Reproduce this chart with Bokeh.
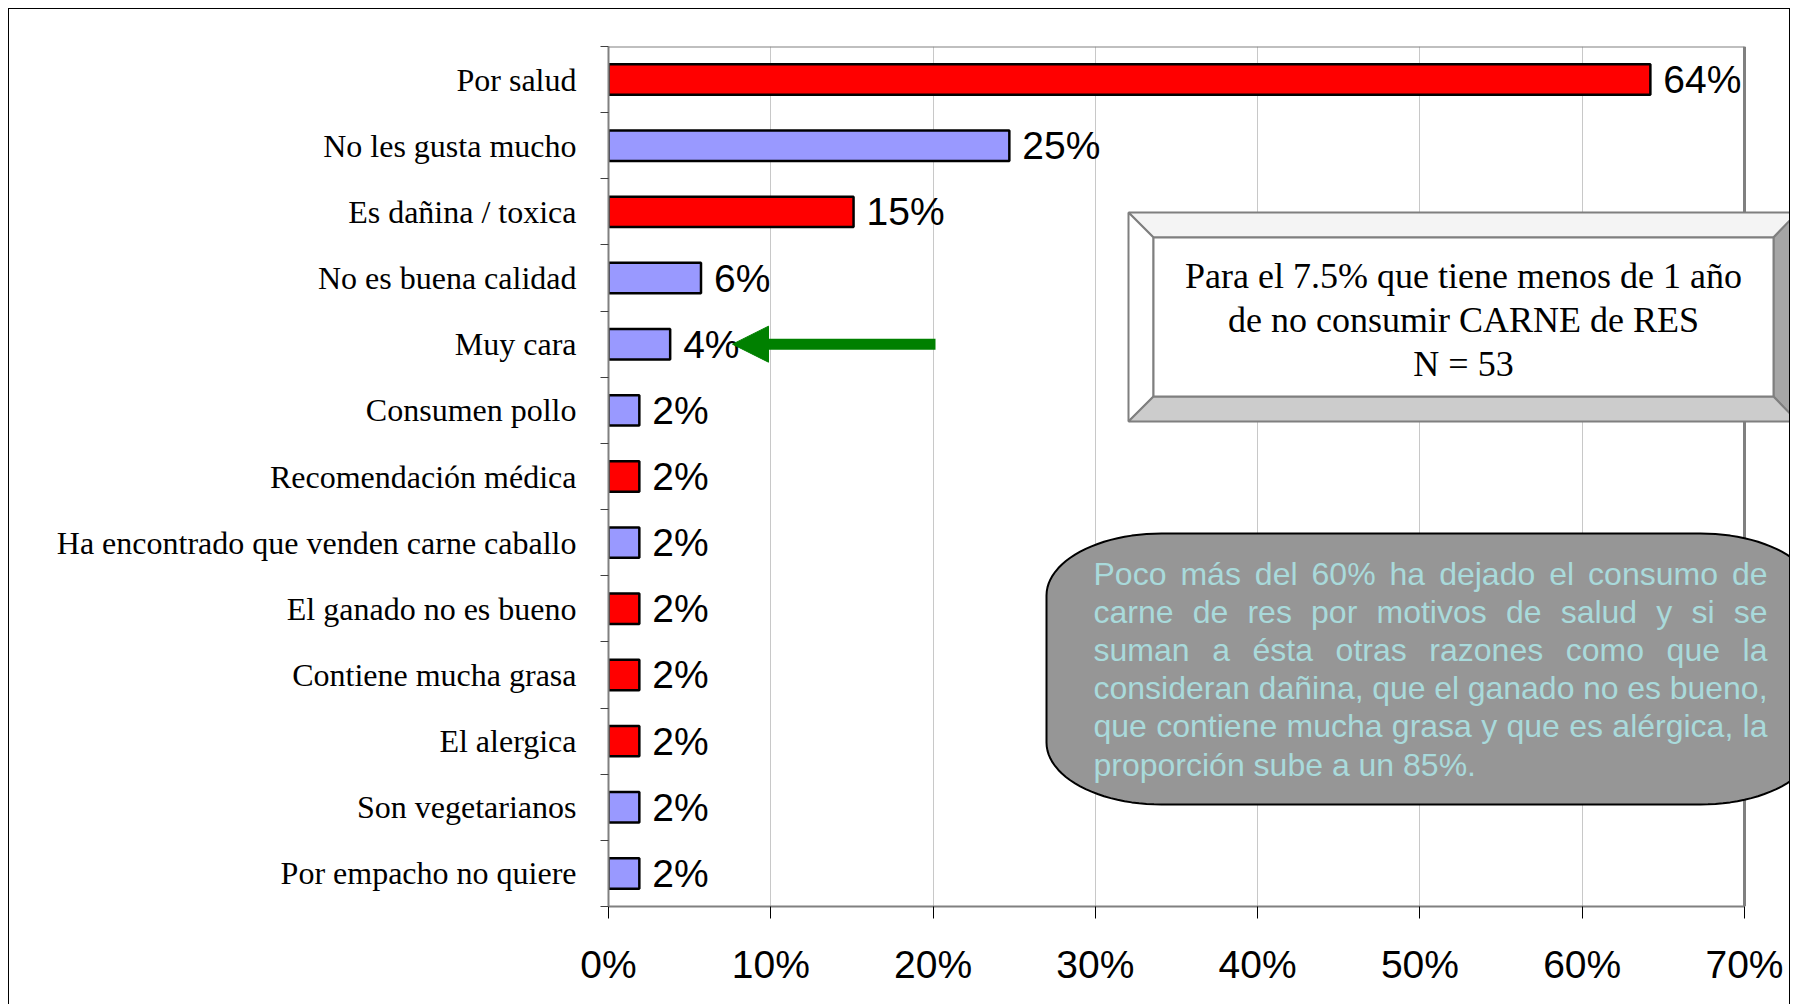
import math
from bokeh.plotting import figure
from bokeh.models import (ColumnDataSource, Range1d, FixedTicker, NumeralTickFormatter,
                          Arrow, NormalHead)
from bokeh.core.properties import value
from bokeh.embed import file_html
from bokeh.resources import INLINE

# ---------------- data ----------------
categories = ["Por salud", "No les gusta mucho", "Es dañina / toxica", "No es buena calidad",
              "Muy cara", "Consumen pollo", "Recomendación médica",
              "Ha encontrado que venden carne caballo", "El ganado no es bueno",
              "Contiene mucha grasa", "El alergica", "Son vegetarianos", "Por empacho no quiere"]
shares = [0.642, 0.247, 0.151, 0.057, 0.038, 0.019, 0.019, 0.019, 0.019, 0.019, 0.019, 0.019, 0.019]
health_related = [True, False, True, False, False, False, True, False, True, True, True, False, False]
x_ticks = [0.0, 0.1, 0.2, 0.3, 0.4, 0.5, 0.6, 0.7]

box_title = ["Para el 7.5% que tiene menos de 1 año", "de no consumir CARNE de RES", "N = 53"]
note_lines = ["Poco más del 60% ha dejado el consumo de",
              "carne de res por motivos de salud y si se",
              "suman a ésta otras razones como que la",
              "consideran dañina, que el ganado no es bueno,",
              "que contiene mucha grasa y que es alérgica, la",
              "proporción sube a un 85%."]
arrow_target = "Muy cara"

RED = "#FF0000"
LAV = "#9999FF"

n = len(categories)
pos = [n - 1 - i for i in range(n)]
colors = [RED if h else LAV for h in health_related]
labels = [f"{int(v * 100 + 0.5)}%" for v in shares]
src = ColumnDataSource(dict(cat=categories, value=shares, pos=pos, color=colors, label=labels))

# ---------------- layout helpers (screen px -> data) ----------------
FRAME_L, FRAME_T, FRAME_B = 608, 46, 906
PX_PER_UNIT = (1744 - 608) / 0.70
ROW = (FRAME_B - FRAME_T) / n
FIG_X0 = 9  # page x of the canvas left edge


def X(px):
    return (px - FRAME_L) / PX_PER_UNIT


def Y(py):
    return (n - 0.5) - (py - FRAME_T) / ROW


W = 1782
p = figure(width=W, height=996, output_backend="svg", toolbar_location=None,
           x_range=Range1d(0, X(FIG_X0 + W)), y_range=Range1d(-0.5, n - 0.5),
           min_border_left=FRAME_L - FIG_X0, min_border_top=FRAME_T - 9,
           min_border_bottom=996 - (FRAME_B - 9), min_border_right=0)
p.outline_line_color = None
p.background_fill_color = "white"
p.border_fill_color = "white"
p.styles = {"margin-left": "8px", "margin-top": "8px",
            "border-top": "1px solid #000", "border-left": "1px solid #000",
            "border-right": "1px solid #000"}

# axes
xt = FixedTicker(ticks=x_ticks)
p.xaxis.ticker = xt
p.xaxis.bounds = (0, 0.7)
p.xaxis.formatter = NumeralTickFormatter(format="0%")
p.xaxis.axis_line_color = "#808080"
p.xaxis.axis_line_width = 2
p.xaxis.major_tick_out = 12
p.xaxis.major_tick_in = 0
p.xaxis.major_tick_line_color = "black"
p.xaxis.minor_tick_line_color = None
p.xaxis.major_label_text_font = "Liberation Sans"
p.xaxis.major_label_text_font_size = "39px"
p.xaxis.major_label_text_color = "black"
p.xaxis.major_label_standoff = 24

p.xgrid.ticker = xt
p.xgrid.bounds = (0, 0.7)
p.xgrid.grid_line_color = "#C8C8C8"
p.xgrid.grid_line_width = 1
p.ygrid.visible = False

boundaries = [i - 0.5 for i in range(n + 1)]
p.yaxis.ticker = FixedTicker(ticks=pos, minor_ticks=boundaries)
p.yaxis.major_label_overrides = {pp: c for pp, c in zip(pos, categories)}
p.yaxis.axis_line_color = "#808080"
p.yaxis.axis_line_width = 2
p.yaxis.major_tick_line_color = None
p.yaxis.major_tick_out = 0
p.yaxis.major_tick_in = 0
p.yaxis.minor_tick_line_color = "#404040"
p.yaxis.minor_tick_out = 8
p.yaxis.minor_tick_in = 0
p.yaxis.major_label_text_font = "Liberation Serif"
p.yaxis.major_label_text_font_size = "32px"
p.yaxis.major_label_text_color = "black"
p.yaxis.major_label_standoff = 24

# plot-area border (top & right)
p.segment(x0=[0, 0.7], y0=[n - 0.5, n - 0.5], x1=[0.7, 0.7], y1=[n - 0.5, -0.5],
          line_color="#808080", line_width=[2, 3])

# bars
p.hbar(y="pos", left=0, right="value", height=0.46, source=src,
       fill_color="color", line_color="black", line_width=2.5)
p.text(x="value", y="pos", text="label", source=src, x_offset=13,
       text_font=value("Liberation Sans"), text_font_size="39px",
       text_align="left", text_baseline="middle", text_color="black")

# ---------------- beveled title box ----------------
L, T, R, B = 1128, 212, 1797, 421
l, t, r, b = 1153, 237, 1773, 396
bev = [
    ([L, R, r, l], [T, T, t, t], "#F4F4F4"),
    ([L, l, l, L], [T, t, b, B], "#FFFFFF"),
    ([R, r, r, R], [T, t, b, B], "#A6A6A6"),
    ([L, R, r, l], [B, B, b, b], "#CCCCCC"),
    ([l, r, r, l], [t, t, b, b], "#FFFFFF"),
]
p.patches(xs=[[X(v) for v in xs] for xs, _, _ in bev],
          ys=[[Y(v) for v in ys] for _, ys, _ in bev],
          fill_color=[c for _, _, c in bev], line_color="#7F7F7F", line_width=2)
p.text(x=[X(1463)] * 3, y=[Y(275), Y(319), Y(363)], text=box_title,
       text_font=value("Liberation Serif"), text_font_size="36px",
       text_align="center", text_baseline="alphabetic", text_color="black")

# ---------------- rounded note box ----------------
def rounded(L, T, R, B, rx, ry, k=24):
    xs, ys = [], []
    for cx, cy, a0 in [(L + rx, T + ry, 180), (R - rx, T + ry, 270),
                       (R - rx, B - ry, 0), (L + rx, B - ry, 90)]:
        for j in range(k + 1):
            a = math.radians(a0 + 90 * j / k)
            xs.append(X(cx + rx * math.cos(a)))
            ys.append(Y(cy + ry * math.sin(a)))
    return xs, ys


rx_, ry_ = rounded(1046, 533, 1815, 804, 115, 62)
p.patch(rx_, ry_, fill_color="#969696", line_color="black", line_width=2)

AW = {' ': 278, 'a': 556, 'b': 556, 'c': 500, 'd': 556, 'e': 556, 'f': 278, 'g': 556, 'h': 556,
      'i': 222, 'j': 222, 'k': 500, 'l': 222, 'm': 833, 'n': 556, 'o': 556, 'p': 556, 'q': 556,
      'r': 333, 's': 500, 't': 278, 'u': 556, 'v': 500, 'w': 722, 'x': 500, 'y': 500, 'z': 500,
      'P': 667, ',': 278, '.': 278, '%': 889, 'á': 556, 'é': 556, 'í': 278, 'ó': 556, 'ñ': 556}
FS = 32


def wwidth(w):
    return sum(AW.get(ch, 556) for ch in w) * FS / 1000.0


left_px, right_px = 1093, 1767
wx, wy, wt = [], [], []
for i, line in enumerate(note_lines):
    base = 573 + i * 38.2
    words = line.split(" ")
    if i == len(note_lines) - 1:
        wx.append(X(left_px)); wy.append(Y(base)); wt.append(line)
        continue
    total = sum(wwidth(w) for w in words)
    gap = (right_px - left_px - total) / (len(words) - 1)
    cur = left_px
    for w in words:
        wx.append(X(cur)); wy.append(Y(base)); wt.append(w)
        cur += wwidth(w) + gap
p.text(x=wx, y=wy, text=wt, text_font=value("Liberation Sans"), text_font_size=f"{FS}px",
       text_align="left", text_baseline="alphabetic", text_color="#A9DADB")

# ---------------- green arrow ----------------
ay = pos[categories.index(arrow_target)]
p.add_layout(Arrow(end=NormalHead(size=36, fill_color="#008000", line_color="#008000"),
                   x_start=X(935), y_start=ay, x_end=X(732), y_end=ay,
                   line_color="#008000", line_width=11))

open("out.html", "w").write(file_html(p, INLINE))
